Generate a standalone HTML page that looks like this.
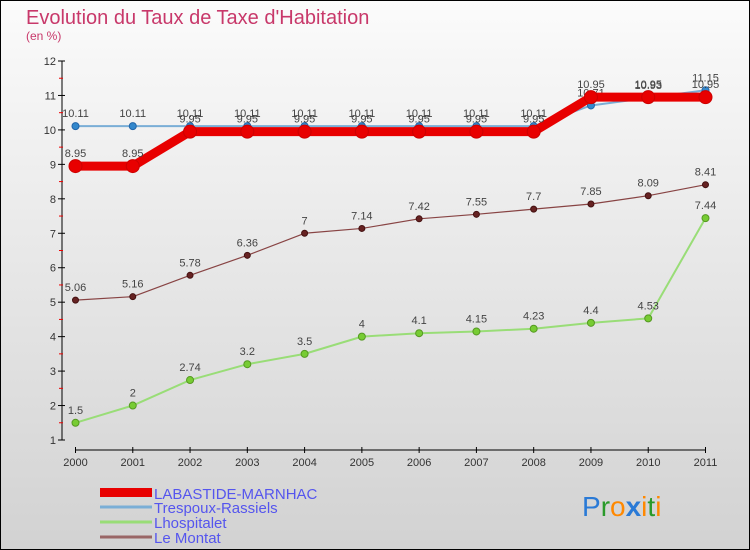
<!DOCTYPE html>
<html><head><meta charset="utf-8"><style>
body{margin:0;}
svg{display:block;font-family:"Liberation Sans",sans-serif;}
</style></head><body>
<svg id="chart" width="750" height="550" xmlns="http://www.w3.org/2000/svg">
<defs><linearGradient id="bg" x1="0" y1="0" x2="0" y2="1"><stop offset="0" stop-color="#fbfbfb"/><stop offset="1" stop-color="#d2d2d2"/></linearGradient></defs>
<rect x="0.5" y="0.5" width="749" height="549" fill="url(#bg)" stroke="#000"/>
<text x="26" y="24" font-size="20" fill="#c8386a">Evolution du Taux de Taxe d'Habitation</text>
<text x="26" y="40" font-size="12" fill="#c8386a">(en %)</text>
<g id="axes"></g>
<g id="series"></g>
<g id="legend">
<rect x="100" y="488" width="52" height="9" fill="#e80000"/>
<text x="154" y="499" font-size="15" fill="#5555ee">LABASTIDE-MARNHAC</text>
<line x1="100" y1="507" x2="152" y2="507" stroke="#7aaed6" stroke-width="3"/>
<text x="154" y="513" font-size="15" fill="#5555ee">Trespoux-Rassiels</text>
<line x1="100" y1="522" x2="152" y2="522" stroke="#99dd77" stroke-width="3"/>
<text x="154" y="528" font-size="15" fill="#5555ee">Lhospitalet</text>
<line x1="100" y1="537" x2="152" y2="537" stroke="#996666" stroke-width="3"/>
<text x="154" y="543" font-size="15" fill="#5555ee">Le Montat</text>
</g>
<g font-size="28" font-family="Liberation Sans,sans-serif">
<text x="582" y="516"><tspan fill="#2a7ad6">P</tspan><tspan fill="#2a9a2a">r</tspan><tspan fill="#ff8800">o</tspan><tspan fill="#2a7ad6" font-weight="bold">x</tspan><tspan fill="#ff8800">i</tspan><tspan fill="#2a9a2a">t</tspan><tspan fill="#ff8800">i</tspan></text>
</g>
</svg>
<script>
const years=[2000,2001,2002,2003,2004,2005,2006,2007,2008,2009,2010,2011];
const yTicks=[1,2,3,4,5,6,7,8,9,10,11,12];
const labastide=[8.95,8.95,9.95,9.95,9.95,9.95,9.95,9.95,9.95,10.95,10.95,10.95];
const trespoux=[10.11,10.11,10.11,10.11,10.11,10.11,10.11,10.11,10.11,10.71,10.93,11.15];
const lhospitalet=[1.5,2,2.74,3.2,3.5,4,4.1,4.15,4.23,4.4,4.53,7.44];
const montat=[5.06,5.16,5.78,6.36,7,7.14,7.42,7.55,7.7,7.85,8.09,8.41];
const NS="http://www.w3.org/2000/svg";
function xs(i){return 75.5+i*(705.5-75.5)/(years.length-1);}
function ys(v){return 440-(v-1)*(440-61)/11;}
function mk(tag,attrs,parent){const e=document.createElementNS(NS,tag);for(const k in attrs)e.setAttribute(k,attrs[k]);parent.appendChild(e);return e;}
const ax=document.getElementById('axes');
let l=mk('line',{x1:62,y1:61,x2:62,y2:440,stroke:'#000'},ax);


l=mk('line',{x1:75.5,y1:450,x2:705.5,y2:450,stroke:'#000'},ax);


yTicks.forEach(v=>{
 mk('line',{x1:58,y1:ys(v),x2:65,y2:ys(v),stroke:'#000'},ax);
 if(v<12)mk('line',{x1:59,y1:ys(v+0.5),x2:63,y2:ys(v+0.5),stroke:'#e00'},ax);
 const t=mk('text',{x:56,y:ys(v)+4,'font-size':11,fill:'#333','text-anchor':'end'},ax);
 t.textContent=v;
 
 
});
years.forEach((y,i)=>{
 mk('line',{x1:xs(i),y1:447,x2:xs(i),y2:453,stroke:'#000'},ax);
 const t=mk('text',{x:xs(i),y:466,'font-size':11,fill:'#333','text-anchor':'middle'},ax);
 t.textContent=y;
 
 
});
const sg=document.getElementById('series');
function series(vals,name,color,width,r,dot,dotStroke){
 const g=mk('g',{},sg);
 
 
 const p=mk('polyline',{points:vals.map((v,i)=>xs(i)+','+ys(v)).join(' '),fill:'none',stroke:color,'stroke-width':width,'stroke-linejoin':'round'},g);
 
 
 vals.forEach((v,i)=>{
  const c=mk('circle',{cx:xs(i),cy:ys(v),r:r,fill:dot,stroke:dotStroke,'stroke-width':1},g);
  
  
  const t=mk('text',{x:xs(i),y:ys(v)-9,'font-size':11,fill:'#444','text-anchor':'middle'},g);
  t.textContent=v;
  
  
 });
}
series(lhospitalet,'lhospitalet','#99dd77',2,3.5,'#77cc33','#559922');
series(montat,'le-montat','#884444',1.2,3,'#662222','#441111');
series(trespoux,'trespoux','#7aaed6',2,3.5,'#3388cc','#2266aa');
series(labastide,'labastide','#e80000',9,6.5,'#e80000','#cc0000');
</script>
</body></html>
